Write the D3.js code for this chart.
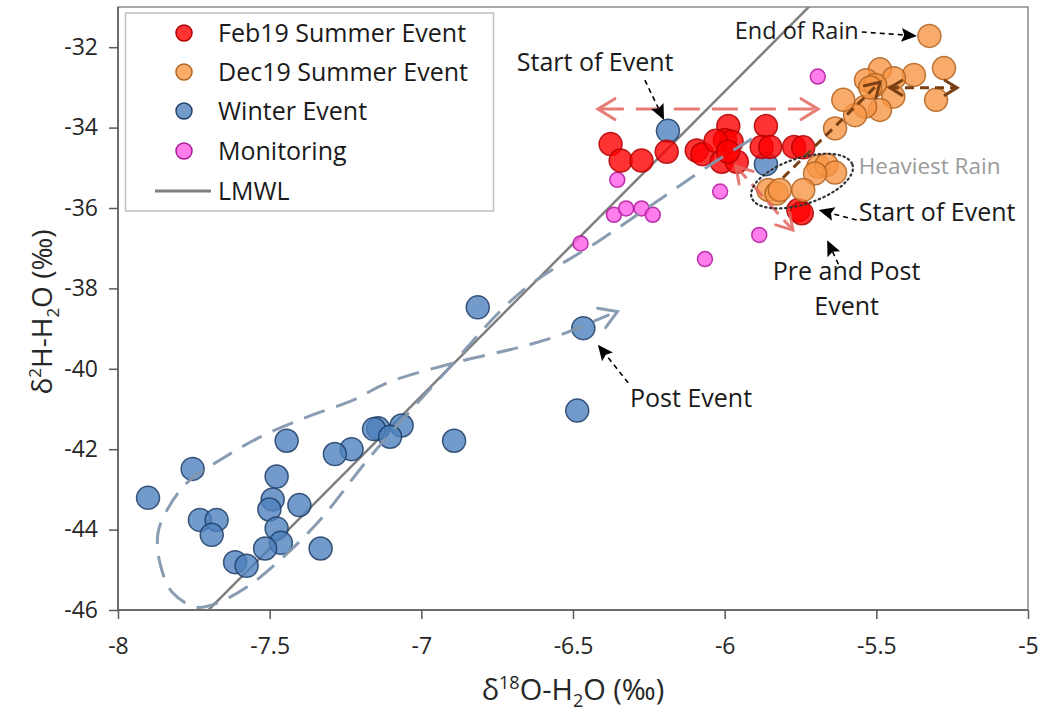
<!DOCTYPE html>
<html>
<head>
<meta charset="utf-8">
<script src="https://cdn.jsdelivr.net/npm/d3@7"></script>
<style>
  html, body { margin: 0; padding: 0; background: #fff; }
  svg { display: block; font-family: "Open Sans", "Liberation Sans", sans-serif; }
</style>
</head>
<body>
<svg id="chart" width="1043" height="712"></svg>
<script>
// δ18O / δ2H isotope pairs for each sampling campaign
const feb19X = [-6.376, -6.343, -6.274, -6.191, -6.092, -6.073, -5.988, -5.999, -5.977, -6.030, -6.010, -5.960, -5.989, -5.864, -5.878, -5.850, -5.771, -5.741, -5.757, -5.746];
const feb19Y = [-34.41, -34.82, -34.82, -34.60, -34.57, -34.66, -33.96, -34.31, -34.35, -34.33, -34.85, -34.85, -34.60, -33.96, -34.48, -34.48, -34.48, -34.49, -36.05, -36.13];

const dec19X = [-5.325, -5.277, -5.303, -5.376, -5.488, -5.442, -5.534, -5.504, -5.444, -5.488, -5.537, -5.570, -5.609, -5.636, -5.520, -5.691, -5.664, -5.636, -5.702, -5.856, -5.829, -5.818, -5.741];
const dec19Y = [-31.72, -32.52, -33.31, -32.69, -32.55, -32.77, -32.82, -32.94, -33.23, -33.56, -33.48, -33.69, -33.31, -34.02, -33.00, -34.97, -34.93, -35.12, -35.14, -35.55, -35.64, -35.55, -35.55];

const winterX = [-7.901, -7.754, -7.444, -7.477, -7.490, -7.501, -7.402, -7.730, -7.675, -7.691, -7.477, -7.463, -7.515, -7.614, -7.576, -7.332, -6.814, -6.466, -6.486, -6.892, -7.142, -7.156, -7.065, -7.103, -7.230, -7.285, -6.187, -5.864];
const winterY = [-43.21, -42.49, -41.79, -42.68, -43.25, -43.50, -43.39, -43.76, -43.76, -44.13, -43.97, -44.33, -44.47, -44.81, -44.90, -44.47, -38.47, -38.99, -41.04, -41.79, -41.48, -41.50, -41.41, -41.69, -42.00, -42.12, -34.08, -34.91];

const monitorX = [-6.354, -6.365, -6.325, -6.274, -6.237, -6.475, -6.015, -6.065, -5.886, -5.693];
const monitorY = [-35.30, -36.17, -36.01, -36.01, -36.17, -36.88, -35.59, -37.27, -36.67, -32.73];

// Local meteoric water line: δ2H = slope·δ18O + intercept
const lmwlSlope = 7.58;
const lmwlIntercept = 12.38;

const xTicks = [-8, -7.5, -7, -6.5, -6, -5.5, -5];
const yTicks = [-46, -44, -42, -40, -38, -36, -34, -32];

const seriesNames = ["Feb19 Summer Event", "Dec19 Summer Event", "Winter Event", "Monitoring", "LMWL"];

// Event-path annotations (isotope units)
const winterPathX = [-5.910, -6.038, -6.203, -6.411, -6.675, -6.929, -7.169, -7.334, -7.466, -7.575, -7.674, -7.740, -7.819, -7.862, -7.868, -7.838, -7.773, -7.664, -7.532, -7.377, -7.225, -7.113, -6.896, -6.675, -6.543, -6.380];
const winterPathY = [-34.28, -34.88, -35.73, -36.80, -38.11, -40.15, -42.19, -43.76, -44.76, -45.43, -45.83, -45.93, -45.58, -44.83, -44.08, -43.51, -42.84, -42.27, -41.70, -41.20, -40.78, -40.35, -39.86, -39.46, -39.16, -38.65];

const svg = d3.select("#chart");
const margin = { left: 118, top: 7, right: 15, bottom: 102 };
const W = 1043, H = 712;

const x = d3.scaleLinear().domain([-8, -5]).range([margin.left, W - margin.right]);
const y = d3.scaleLinear().domain([-46, -31]).range([H - margin.bottom, margin.top]);

const px0 = x.range()[0], px1 = x.range()[1];
const py0 = y.range()[1], py1 = y.range()[0];

svg.append("defs").append("clipPath").attr("id", "plotClip")
  .append("rect").attr("x", px0).attr("y", py0).attr("width", px1 - px0).attr("height", py1 - py0);

// plot frame
svg.append("rect")
  .attr("x", px0).attr("y", py0).attr("width", px1 - px0).attr("height", py1 - py0)
  .attr("fill", "none").attr("stroke", "#8c8c8c").attr("stroke-width", 1.5);

// axes (plain hyphen for negatives)
const fmt = d => String(d).replace("\u2212", "-");
const xAxis = d3.axisBottom(x).tickValues(xTicks).tickSize(9).tickPadding(19).tickFormat(fmt);
const yAxis = d3.axisLeft(y).tickValues(yTicks).tickSize(9).tickPadding(11).tickFormat(fmt);

const gx = svg.append("g").attr("transform", `translate(0,${py1})`).call(xAxis);
const gy = svg.append("g").attr("transform", `translate(${px0},0)`).call(yAxis);
[gx, gy].forEach(g => {
  g.select(".domain").attr("stroke", "#595959").attr("stroke-width", 1.5);
  g.selectAll(".tick line").attr("stroke", "#595959").attr("stroke-width", 1.5);
  g.selectAll(".tick text").attr("fill", "#262626").style("font-size", "23px")
    .style("font-family", "'Open Sans', sans-serif");
});
gy.select(".domain").attr("d", `M0,${py1}V${py0}`);
gx.select(".domain").attr("d", `M${px0},0H${px1}`);

// axis titles
const xt = svg.append("text").attr("x", (px0 + px1) / 2).attr("y", 700)
  .attr("text-anchor", "middle").attr("fill", "#262626").style("font-size", "29px");
xt.append("tspan").text("δ");
xt.append("tspan").attr("dy", -11).style("font-size", "18px").text("18");
xt.append("tspan").attr("dy", 11).text("O-H");
xt.append("tspan").attr("dy", 7).style("font-size", "18px").text("2");
xt.append("tspan").attr("dy", -7).text("O (‰)");

const yt = svg.append("text").attr("transform", `translate(52,312) rotate(-90)`)
  .attr("text-anchor", "middle").attr("fill", "#262626").style("font-size", "28px");
yt.append("tspan").text("δ");
yt.append("tspan").attr("dy", -11).style("font-size", "17px").text("2");
yt.append("tspan").attr("dy", 11).text("H-H");
yt.append("tspan").attr("dy", 7).style("font-size", "17px").text("2");
yt.append("tspan").attr("dy", -7).text("O (‰)");

const plot = svg.append("g").attr("clip-path", "url(#plotClip)");

// LMWL
const lmwlX = [-8, -5];
plot.append("line")
  .attr("x1", x(lmwlX[0])).attr("y1", y(lmwlSlope * lmwlX[0] + lmwlIntercept))
  .attr("x2", x(lmwlX[1])).attr("y2", y(lmwlSlope * lmwlX[1] + lmwlIntercept))
  .attr("stroke", "#7f7f7f").attr("stroke-width", 2.5);

const styles = {
  feb19: { fill: "#ff0000", stroke: "#b00000", r: 11.5 },
  dec19: { fill: "#f79646", stroke: "#b0621f", r: 11.5 },
  winter: { fill: "#4f81bd", stroke: "#1f3d66", r: 11.5 },
  monitor: { fill: "#ff5ee6", stroke: "#b0189e", r: 7.5 }
};

function drawSeries(xs, ys, st) {
  plot.append("g").selectAll("circle").data(xs.map((v, i) => [v, ys[i]])).join("circle")
    .attr("cx", d => x(d[0])).attr("cy", d => y(d[1])).attr("r", st.r)
    .attr("fill", st.fill).attr("fill-opacity", 0.8)
    .attr("stroke", st.stroke).attr("stroke-width", 1.5).attr("stroke-opacity", 0.85);
}
drawSeries(monitorX, monitorY, styles.monitor);
drawSeries(winterX, winterY, styles.winter);
drawSeries(feb19X, feb19Y, styles.feb19);
drawSeries(dec19X, dec19Y, styles.dec19);

// ---- annotations ----
const ann = svg.append("g");

function chevron(g, x1, y1, x2, y2, size, color, width) {
  const a = Math.atan2(y2 - y1, x2 - x1);
  const s = 0.55;
  const p1 = [x2 - size * Math.cos(a - s), y2 - size * Math.sin(a - s)];
  const p2 = [x2 - size * Math.cos(a + s), y2 - size * Math.sin(a + s)];
  g.append("path").attr("d", `M${p1}L${x2},${y2}L${p2}`)
    .attr("fill", "none").attr("stroke", color).attr("stroke-width", width).attr("stroke-linecap", "round");
}
function dashedArrow(x1, y1, x2, y2, opt) {
  const X1 = x(x1), Y1 = y(y1), X2 = x(x2), Y2 = y(y2);
  const g = ann.append("g").attr("opacity", opt.opacity || 1);
  g.append("line").attr("x1", X1).attr("y1", Y1).attr("x2", X2).attr("y2", Y2)
    .attr("stroke", opt.color).attr("stroke-width", opt.width).attr("stroke-dasharray", opt.dash);
  chevron(g, X1, Y1, X2, Y2, opt.head, opt.color, opt.width);
  if (opt.both) chevron(g, X2, Y2, X1, Y1, opt.head, opt.color, opt.width);
}
function pointer(x1, y1, x2, y2) {
  const X1 = x(x1), Y1 = y(y1), X2 = x(x2), Y2 = y(y2);
  const a = Math.atan2(Y2 - Y1, X2 - X1);
  const L = 17, w = 0.42;
  const bx = X2 - L * 0.75 * Math.cos(a), by = Y2 - L * 0.75 * Math.sin(a);
  ann.append("line").attr("x1", X1).attr("y1", Y1).attr("x2", bx).attr("y2", by)
    .attr("stroke", "#000").attr("stroke-width", 1.6).attr("stroke-dasharray", "5,4");
  const p1 = [X2 - L * Math.cos(a - w), Y2 - L * Math.sin(a - w)];
  const p2 = [X2 - L * Math.cos(a + w), Y2 - L * Math.sin(a + w)];
  ann.append("path").attr("d", `M${X2},${Y2}L${p1}L${bx},${by}L${p2}Z`).attr("fill", "#000");
}

// winter event trajectory
const pathLine = d3.line().x(d => x(d[0])).y(d => y(d[1])).curve(d3.curveCatmullRom.alpha(0.5));
const wp = winterPathX.map((v, i) => [v, winterPathY[i]]);
ann.append("path").attr("d", pathLine(wp)).attr("fill", "none")
  .attr("stroke", "#8397ad").attr("stroke-width", 3).attr("stroke-dasharray", "22,12").attr("opacity", 0.95);
{
  const n = wp.length;
  chevron(ann.append("g").attr("opacity", 0.95), x(wp[n - 2][0]), y(wp[n - 2][1]), x(wp[n - 1][0]) + 8, y(wp[n - 1][1]) - 3, 20, "#8397ad", 3);
}

// Feb19 summer event spreads
dashedArrow(-6.418, -33.54, -5.692, -33.54, { color: "#e2665e", width: 3, dash: "26,12", head: 20, both: true, opacity: 0.85 });
dashedArrow(-5.963, -34.96, -5.775, -36.55, { color: "#e2665e", width: 3, dash: "16,8", head: 18, both: true, opacity: 0.85 });

// Dec19 summer event trajectory
dashedArrow(-5.808, -35.25, -5.488, -32.87, { color: "#7a3f12", width: 3, dash: "9,6", head: 16, both: false });
dashedArrow(-5.455, -33.01, -5.234, -33.01, { color: "#7a3f12", width: 3, dash: "9,6", head: 14, both: true });

// heaviest-rain outline
ann.append("ellipse")
  .attr("cx", x(-5.745)).attr("cy", y(-35.33)).attr("rx", 53).attr("ry", 23)
  .attr("transform", `rotate(-18 ${x(-5.745)} ${y(-35.33)})`)
  .attr("fill", "none").attr("stroke", "#333").attr("stroke-width", 2.2)
  .attr("stroke-dasharray", "1.5,3.5").attr("stroke-linecap", "round");

// pointers
pointer(-6.263, -32.82, -6.200, -33.81);
pointer(-5.548, -31.62, -5.366, -31.72);
pointer(-5.565, -36.30, -5.690, -36.05);
pointer(-5.625, -37.40, -5.662, -36.80);
pointer(-6.318, -40.35, -6.418, -39.40);

// labels
const labels = [
  { t: "Start of Event", x: -6.427, y: -32.59, anchor: "middle", color: "#1a1a1a", size: 25 },
  { t: "End of Rain", x: -5.558, y: -31.80, anchor: "end", color: "#1a1a1a", size: 23.5 },
  { t: "Heaviest Rain", x: -5.558, y: -35.15, anchor: "start", color: "#9a9a9a", size: 22.5 },
  { t: "Start of Event", x: -5.558, y: -36.33, anchor: "start", color: "#1a1a1a", size: 25 },
  { t: "Pre and Post", x: -5.598, y: -37.79, anchor: "middle", color: "#1a1a1a", size: 25 },
  { t: "Event", x: -5.598, y: -38.66, anchor: "middle", color: "#1a1a1a", size: 25 },
  { t: "Post Event", x: -6.312, y: -40.95, anchor: "start", color: "#1a1a1a", size: 25 }
];
ann.selectAll("text.lab").data(labels).join("text").attr("class", "lab")
  .attr("x", d => x(d.x)).attr("y", d => y(d.y)).attr("text-anchor", d => d.anchor)
  .attr("fill", d => d.color).style("font-size", d => d.size + "px").text(d => d.t);

// legend
const lg = svg.append("g");
lg.append("rect").attr("x", 125.5).attr("y", 13).attr("width", 368).attr("height", 198)
  .attr("fill", "#fff").attr("stroke", "#bfbfbf").attr("stroke-width", 1.5);
const legendStyles = [styles.feb19, styles.dec19, styles.winter, styles.monitor];
const rowY = [33, 72, 111, 151, 191];
seriesNames.forEach((name, i) => {
  if (i < 4) {
    const st = legendStyles[i];
    lg.append("circle").attr("cx", 184).attr("cy", rowY[i]).attr("r", 8)
      .attr("fill", st.fill).attr("fill-opacity", 0.8).attr("stroke", st.stroke).attr("stroke-width", 1.5);
  } else {
    lg.append("line").attr("x1", 155).attr("x2", 211).attr("y1", rowY[i]).attr("y2", rowY[i])
      .attr("stroke", "#7f7f7f").attr("stroke-width", 3);
  }
  lg.append("text").attr("x", 218).attr("y", rowY[i] + 8.5).attr("fill", "#1a1a1a")
    .style("font-size", "25px").text(name);
});
</script>
</body>
</html>
